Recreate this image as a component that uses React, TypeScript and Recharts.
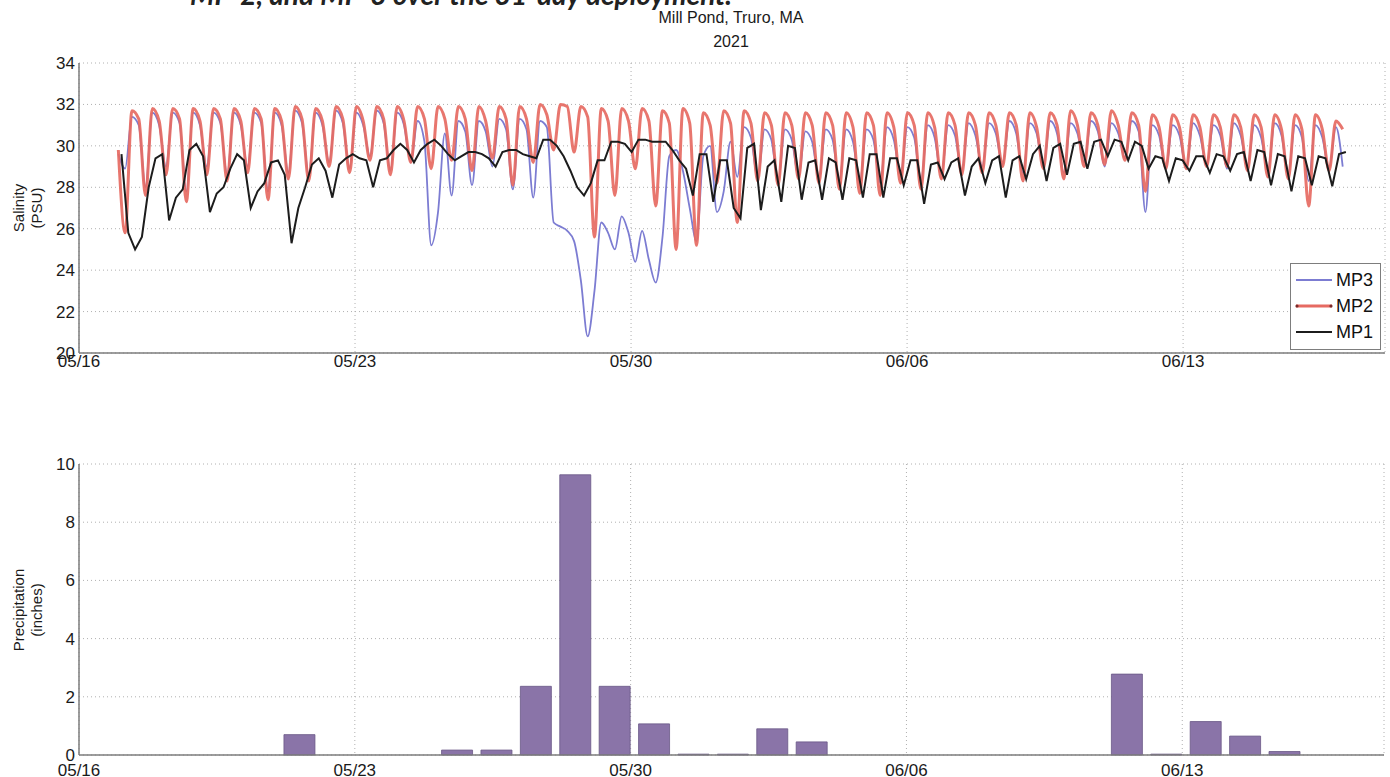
import React from "react";
import { LineChart, Line, BarChart, Bar, XAxis, YAxis, CartesianGrid } from "recharts";

const FONT = "'Liberation Sans', Arial, Helvetica, sans-serif";

// x axis: days since 05/16 00:00
const TICK_DAYS = [0, 7, 14, 21, 28];
const TICK_LABELS = ["05/16", "05/23", "05/30", "06/06", "06/13"];
const X_MAX = 33.12;
const SAL_TICKS = [20, 22, 24, 26, 28, 30, 32, 34];
const RAIN_TICKS = [0, 2, 4, 6, 8, 10];

// salinity samples, one every ~4.14 h (a third of a tidal cycle)
const STEP = 0.1725;
const MP2_START = 0.9975;
const MP3_START = 0.9975;
const MP1_START = 1.0775;

// MP2 (red) - triplets per tide: low, peak, falling
const MP2_SAL = [
  29.8,
  25.8, 31.7, 31.3, 27.6, 31.8, 31.2, 28.6, 31.8, 31.3, 27.3, 31.8, 31.2,
  28.6, 31.8, 31.3, 28.3, 31.8, 31.2, 28.7, 31.8, 31.3, 27.4, 31.8, 31.2,
  28.4, 31.9, 31.3, 28.3, 31.8, 31.2, 29.0, 31.9, 31.3, 28.7, 31.9, 31.2,
  29.3, 31.9, 31.3, 28.6, 31.9, 31.2, 29.2, 31.9, 31.3, 28.9, 31.9, 31.3,
  29.3, 31.9, 31.3, 28.8, 31.9, 31.2, 29.4, 31.9, 31.3, 28.1, 31.9, 31.3,
  29.2, 32.0, 31.5, 29.8, 32.0, 31.9, 29.7, 31.9, 31.4, 25.6, 31.8, 31.2,
  27.6, 31.8, 31.2, 28.9, 31.8, 31.2, 27.1, 31.7, 31.1, 25.0, 31.8, 31.1,
  25.2, 31.6, 31.0, 28.2, 31.7, 31.1, 26.3, 31.7, 31.1, 28.3, 31.6, 31.0,
  28.1, 31.6, 31.0, 28.4, 31.6, 31.0, 28.2, 31.6, 31.0, 27.9, 31.6, 30.9,
  27.7, 31.6, 31.0, 27.6, 31.6, 30.9, 28.2, 31.6, 31.0, 27.9, 31.6, 30.9,
  28.4, 31.6, 31.0, 28.6, 31.6, 31.0, 28.7, 31.6, 31.0, 29.0, 31.6, 31.0,
  28.3, 31.6, 30.9, 28.9, 31.6, 31.0, 28.4, 31.7, 31.0, 29.0, 31.6, 31.0,
  29.1, 31.7, 31.0, 29.3, 31.6, 31.0, 27.8, 31.5, 30.9, 28.9, 31.5, 30.9,
  28.9, 31.5, 30.9, 29.0, 31.5, 30.9, 29.0, 31.5, 30.9, 28.8, 31.5, 30.9,
  28.5, 31.5, 30.8, 28.4, 31.5, 30.8, 27.1, 31.5, 30.8, 28.8, 31.2, 30.8,
];

// MP3 (blue)
const MP3_SAL = [
  29.6,
  28.9, 31.4, 31.0, 28.0, 31.6, 31.0, 29.0, 31.6, 31.1, 27.8, 31.6, 31.0,
  29.0, 31.6, 31.1, 28.6, 31.6, 31.0, 29.0, 31.6, 31.1, 27.8, 31.6, 31.0,
  28.7, 31.7, 31.1, 28.6, 31.6, 31.0, 29.2, 31.7, 31.1, 28.9, 31.6, 31.0,
  29.5, 31.7, 31.1, 28.8, 31.6, 31.0, 29.2, 31.2, 30.2, 25.2, 26.8, 30.6,
  27.6, 31.2, 30.7, 28.1, 31.2, 30.7, 29.0, 31.3, 30.8, 27.9, 31.3, 30.8,
  27.5, 31.2, 30.9, 26.3, 26.1, 25.9, 25.4, 23.5, 20.8, 23.0, 26.3, 25.8,
  25.0, 26.6, 25.8, 24.4, 25.9, 24.5, 23.4, 25.6, 29.5, 29.8, 28.8, 27.0,
  25.4, 29.5, 30.0, 26.8, 27.8, 30.2, 28.5, 30.9, 30.4, 28.4, 30.8, 30.3,
  28.3, 30.8, 30.3, 28.5, 30.7, 30.2, 28.4, 30.8, 30.3, 28.3, 30.8, 30.2,
  28.2, 30.8, 30.3, 28.2, 30.9, 30.3, 28.6, 30.9, 30.4, 28.3, 31.0, 30.4,
  28.6, 31.0, 30.5, 28.8, 31.1, 30.5, 29.0, 31.1, 30.6, 29.1, 31.2, 30.6,
  28.7, 31.1, 30.6, 29.0, 31.2, 30.6, 28.7, 31.1, 30.6, 29.2, 31.2, 30.7,
  29.0, 31.1, 30.6, 29.4, 31.2, 30.7, 26.8, 31.0, 30.5, 28.9, 31.0, 30.5,
  28.9, 31.1, 30.5, 29.1, 31.0, 30.5, 28.9, 31.1, 30.5, 29.0, 31.0, 30.4,
  28.8, 31.1, 30.5, 28.7, 31.0, 30.4, 28.3, 31.0, 30.4, 28.9, 30.9, 29.0,
];

// MP1 (black) - triplets per tide: dip, after, plateau
const MP1_SAL = [
  29.6,
  25.8, 25.0, 25.6, 28.0, 29.4, 29.6, 26.4, 27.5, 27.9, 29.8, 30.1, 29.5,
  26.8, 27.7, 28.0, 28.9, 29.6, 29.3, 27.0, 27.8, 28.2, 29.2, 29.3, 28.6,
  25.3, 27.0, 28.0, 29.1, 29.4, 28.8, 27.5, 29.1, 29.4, 29.6, 29.4, 29.3,
  28.0, 29.3, 29.4, 29.8, 30.1, 29.8, 29.2, 29.8, 30.1, 30.3, 30.0, 29.6,
  29.3, 29.5, 29.7, 29.7, 29.6, 29.4, 29.0, 29.7, 29.8, 29.8, 29.6, 29.5,
  29.4, 30.3, 30.3, 30.0, 29.5, 28.8, 28.0, 27.6, 28.2, 29.3, 29.3, 30.2,
  30.2, 30.1, 29.7, 30.3, 30.3, 30.2, 30.2, 30.2, 29.8, 29.3, 28.9, 27.6,
  29.6, 29.6, 27.3, 29.3, 29.3, 27.0, 26.5, 29.9, 30.1, 26.9, 29.0, 29.3,
  27.3, 30.0, 29.9, 27.4, 29.2, 29.3, 27.4, 29.4, 29.2, 27.4, 29.4, 29.3,
  27.5, 29.6, 29.6, 27.5, 29.4, 29.4, 28.1, 29.3, 29.3, 27.2, 29.1, 29.2,
  28.4, 29.2, 29.4, 27.6, 29.0, 29.4, 28.2, 29.3, 29.5, 27.5, 29.3, 29.5,
  28.4, 29.6, 30.0, 28.3, 29.9, 30.1, 28.6, 30.1, 30.2, 28.9, 30.2, 30.3,
  29.5, 30.3, 30.2, 29.3, 30.2, 30.0, 28.9, 29.5, 29.4, 28.3, 29.4, 29.3,
  28.8, 29.5, 29.5, 28.7, 29.6, 29.5, 28.8, 29.6, 29.7, 28.3, 29.8, 29.7,
  28.1, 29.6, 29.5, 27.8, 29.5, 29.4, 28.1, 29.5, 29.4, 28.05, 29.6, 29.7,
];

// daily precipitation (inches), day 0 = 05/16
const RAIN_DAYS = [
  0, 1, 2, 3, 4, 5, 6, 7, 8, 9, 10, 11, 12, 13, 14, 15,
  16, 17, 18, 19, 20, 21, 22, 23, 24, 25, 26, 27, 28, 29, 30, 31,
];
const RAIN_IN = [
  0, 0, 0, 0, 0, 0.7, 0, 0, 0, 0.17, 0.17, 2.36, 9.63, 2.36, 1.07, 0.03,
  0.03, 0.9, 0.45, 0, 0, 0, 0, 0, 0, 0, 2.78, 0.03, 1.15, 0.65, 0.12, 0,
];
const BAR_SHIFT = 0.6;

const MP3_COLOR = "#7c7cd2";
const MP2_COLOR = "#e66a62";
const MP1_COLOR = "#1c1c1c";
const BAR_COLOR = "#8a74a8";
const BOX = "#7d7d7d";

const toSeries = (start: number, vals: number[]) =>
  vals.map((v, i) => ({ t: start + i * STEP, v }));

const mp2 = toSeries(MP2_START, MP2_SAL);
const mp3 = toSeries(MP3_START, MP3_SAL);
const mp1 = toSeries(MP1_START, MP1_SAL);
const rain = RAIN_DAYS.map((d, i) => ({ t: d + BAR_SHIFT, v: RAIN_IN[i] }));

const dayLabel = (d: number) => TICK_LABELS[TICK_DAYS.indexOf(d)] ?? "";
const tickStyle = { fontSize: 17, fill: "#1a1a1a", fontFamily: FONT };

function AxisTitle({ lines, cx, cy }: { lines: string[]; cx: number; cy: number }) {
  return (
    <div
      style={{
        position: "absolute",
        left: cx - 100,
        top: cy - 18,
        width: 200,
        height: 36,
        lineHeight: "18px",
        textAlign: "center",
        fontFamily: FONT,
        fontSize: 15,
        color: "#1a1a1a",
        transform: "rotate(-90deg)",
      }}
    >
      {lines.map((l) => (
        <div key={l}>{l}</div>
      ))}
    </div>
  );
}

function LegendBox() {
  const rows = [
    { name: "MP3", color: MP3_COLOR, w: 2, dots: false },
    { name: "MP2", color: MP2_COLOR, w: 3, dots: true },
    { name: "MP1", color: MP1_COLOR, w: 2, dots: false },
  ];
  return (
    <div
      style={{
        position: "absolute",
        left: 1290,
        top: 263,
        width: 91,
        height: 87,
        border: `1.5px solid ${BOX}`,
        background: "#fff",
        boxSizing: "border-box",
        paddingTop: 3,
      }}
    >
      {rows.map((r) => (
        <div key={r.name} style={{ display: "flex", alignItems: "center", height: 26 }}>
          <svg width={42} height={10} style={{ marginLeft: 2 }}>
            <line x1={3} y1={5} x2={39} y2={5} stroke={r.color} strokeWidth={r.w} />
            {r.dots ? <circle cx={4} cy={5} r={1.6} fill="#7a2a2a" /> : null}
            {r.dots ? <circle cx={38} cy={5} r={1.6} fill="#7a2a2a" /> : null}
          </svg>
          <span style={{ fontFamily: FONT, fontSize: 18, color: "#111", marginLeft: 1 }}>{r.name}</span>
        </div>
      ))}
    </div>
  );
}

export default function App() {
  return (
    <div
      style={{
        position: "absolute",
        left: 0,
        top: 0,
        width: 1390,
        height: 777,
        background: "#fff",
        overflow: "hidden",
      }}
    >
      <div
        style={{
          position: "absolute",
          left: 190,
          top: -20,
          fontFamily: "Lato, 'Open Sans', sans-serif",
          fontWeight: 700,
          fontStyle: "italic",
          fontSize: 28,
          lineHeight: "28px",
          color: "#222",
          whiteSpace: "nowrap",
        }}
      >
        MP-2, and MP-3 over the 31-day deployment.
      </div>
      <div
        style={{
          position: "absolute",
          left: 0,
          width: 1462,
          top: 9,
          textAlign: "center",
          fontFamily: FONT,
          fontSize: 16,
          lineHeight: "18px",
          color: "#1a1a1a",
        }}
      >
        <div>Mill Pond, Truro, MA</div>
        <div style={{ marginTop: 6 }}>2021</div>
      </div>

      <div style={{ position: "absolute", left: 0, top: 0 }}>
        <LineChart width={1390} height={390} margin={{ top: 63, right: 5, bottom: 0, left: 0 }}>
          <CartesianGrid stroke="#b0b0b0" strokeDasharray="1 3" />
          <XAxis
            type="number"
            dataKey="t"
            domain={[0, X_MAX]}
            ticks={TICK_DAYS}
            interval={0}
            allowDataOverflow
            tickFormatter={dayLabel}
            height={37}
            tickLine={false}
            tickSize={0}
            tickMargin={2}
            axisLine={{ stroke: BOX, strokeWidth: 1.5 }}
            tick={tickStyle}
          />
          <XAxis
            xAxisId="top"
            orientation="top"
            type="number"
            domain={[0, X_MAX]}
            height={0}
            tick={false}
            tickLine={false}
            axisLine={{ stroke: BOX, strokeWidth: 1.5 }}
          />
          <YAxis
            domain={[20, 34]}
            ticks={SAL_TICKS}
            interval={0}
            allowDataOverflow
            width={79}
            tickLine={false}
            tickSize={0}
            tickMargin={4}
            axisLine={{ stroke: BOX, strokeWidth: 1.5 }}
            tick={tickStyle}
          />
          <YAxis
            yAxisId="right"
            orientation="right"
            domain={[20, 34]}
            width={0}
            tick={false}
            tickLine={false}
            axisLine={{ stroke: BOX, strokeWidth: 1.5 }}
          />
          <Line
            data={mp3}
            dataKey="v"
            type="monotone"
            stroke={MP3_COLOR}
            strokeWidth={1.8}
            dot={false}
            isAnimationActive={false}
          />
          <Line
            data={mp2}
            dataKey="v"
            type="monotone"
            stroke={MP2_COLOR}
            strokeWidth={3}
            strokeOpacity={0.92}
            dot={false}
            isAnimationActive={false}
          />
          <Line
            data={mp1}
            dataKey="v"
            type="linear"
            stroke={MP1_COLOR}
            strokeWidth={2}
            dot={false}
            isAnimationActive={false}
          />
        </LineChart>
      </div>
      <LegendBox />
      <AxisTitle lines={["Salinity", "(PSU)"]} cx={28} cy={208} />

      <div style={{ position: "absolute", left: 0, top: 440 }}>
        <BarChart width={1390} height={360} data={rain} margin={{ top: 24, right: 6, bottom: 0, left: 0 }}>
          <CartesianGrid stroke="#b0b0b0" strokeDasharray="1 3" />
          <XAxis
            type="number"
            dataKey="t"
            domain={[0, X_MAX]}
            ticks={TICK_DAYS}
            interval={0}
            allowDataOverflow
            tickFormatter={dayLabel}
            height={45}
            tickLine={false}
            tickSize={0}
            tickMargin={9}
            axisLine={{ stroke: BOX, strokeWidth: 1.5 }}
            tick={tickStyle}
          />
          <XAxis
            xAxisId="top"
            orientation="top"
            type="number"
            domain={[0, X_MAX]}
            height={0}
            tick={false}
            tickLine={false}
            axisLine={{ stroke: BOX, strokeWidth: 1.5 }}
          />
          <YAxis
            domain={[0, 10]}
            ticks={RAIN_TICKS}
            interval={0}
            width={79}
            tickLine={false}
            tickSize={0}
            tickMargin={4}
            axisLine={{ stroke: BOX, strokeWidth: 1.5 }}
            tick={tickStyle}
          />
          <YAxis
            yAxisId="right"
            orientation="right"
            domain={[0, 10]}
            width={0}
            tick={false}
            tickLine={false}
            axisLine={{ stroke: BOX, strokeWidth: 1.5 }}
          />
          <Bar
            dataKey="v"
            fill={BAR_COLOR}
            stroke="#6a5886"
            strokeWidth={0.8}
            barSize={31}
            isAnimationActive={false}
          />
        </BarChart>
      </div>
      <AxisTitle lines={["Precipitation", "(inches)"]} cx={28} cy={610} />
    </div>
  );
}
